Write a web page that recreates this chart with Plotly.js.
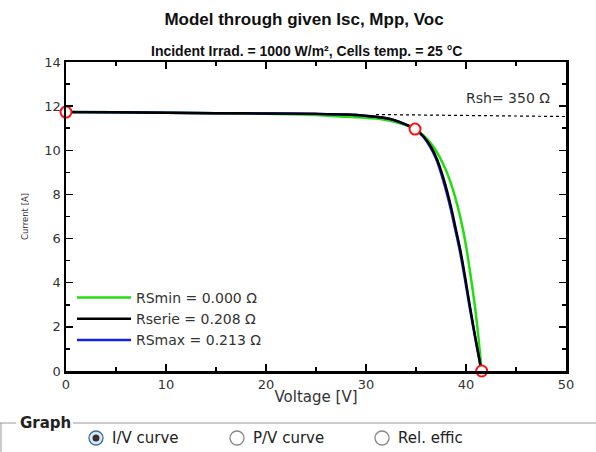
<!DOCTYPE html>
<html><head><meta charset="utf-8">
<script src="https://cdn.plot.ly/plotly-3.0.1.min.js"></script>
<style>html,body{margin:0;padding:0;background:#fff;}#chart{width:596px;height:452px;}</style>
</head><body><div id="chart"></div>
<script>
// --- Data ---
const greenV = [0, 5, 10, 15, 20, 25, 27, 29.5, 31.7, 33.4, 34.9, 35.8, 36.6, 37.3, 38.0, 38.6, 39.2, 39.7, 40.1, 40.5, 40.9, 41.25, 41.57];
const greenI = [11.73, 11.72, 11.70, 11.68, 11.66, 11.6, 11.54, 11.48, 11.4, 11.22, 10.96, 10.65, 10.25, 9.75, 9.1, 8.35, 7.4, 6.4, 5.4, 4.2, 2.91, 1.5, 0];
const blackV = [0, 5, 10, 15, 20, 25, 28, 30, 32.4, 34.07, 34.9, 35.8, 36.5, 37.1, 37.67, 38.2, 38.6, 39.0, 39.45, 39.9, 40.4, 41.0, 41.55];
const blackI = [11.73, 11.72, 11.70, 11.68, 11.67, 11.65, 11.62, 11.56, 11.42, 11.15, 10.96, 10.6, 10.15, 9.6, 8.85, 8.0, 7.25, 6.4, 5.45, 4.3, 2.91, 1.35, 0];
const blueV = [0, 5, 10, 15, 20, 25, 28, 30, 32.4, 34.07, 34.9, 35.75, 36.42, 37.02, 37.58, 38.11, 38.52, 38.93, 39.38, 39.84, 40.36, 40.98, 41.55];
const blueI = [11.73, 11.72, 11.70, 11.68, 11.67, 11.65, 11.62, 11.56, 11.42, 11.15, 10.96, 10.6, 10.15, 9.6, 8.85, 8.0, 7.25, 6.4, 5.45, 4.3, 2.91, 1.35, 0];
const rshV = [31, 50];
const rshI = [11.62, 11.53];
const keyV = [0, 34.9, 41.57];   // Isc, Mpp, Voc
const keyI = [11.73, 10.96, 0];
const seriesNames = ['RSmin = 0.000 Ω', 'Rserie = 0.208 Ω', 'RSmax = 0.213 Ω'];
const xTicks = [0, 10, 20, 30, 40, 50];
const yTicks = [0, 2, 4, 6, 8, 10, 12, 14];

// pixel -> paper helpers (plot area 66..566 x, 62..371 y)
const PX = p => (p - 66) / 500;
const PY = p => (371 - p) / 309;
const FF = 'DejaVu Sans, Verdana, sans-serif';
const FA = 'Liberation Sans, Arial, sans-serif';

const traces = [
  {x: rshV, y: rshI, mode: 'lines', line: {color: '#000', width: 1.2, dash: 'dot'}, showlegend: false, hoverinfo: 'skip'},
  {x: greenV, y: greenI, mode: 'lines', name: seriesNames[0], line: {color: '#22dd11', width: 2.5, shape: 'spline', smoothing: 0.8}, legendrank: 1},
  {x: blueV, y: blueI, mode: 'lines', name: seriesNames[2], line: {color: '#1122ee', width: 2.5, shape: 'spline', smoothing: 0.8}, legendrank: 3},
  {x: blackV, y: blackI, mode: 'lines', name: seriesNames[1], line: {color: '#000', width: 2.4, shape: 'spline', smoothing: 0.8}, legendrank: 2},
  {x: keyV, y: keyI, mode: 'markers', showlegend: false, cliponaxis: false,
   marker: {symbol: 'circle', size: 11, color: '#fff', line: {color: '#ff1010', width: 2}}}
];

const axFont = {family: FF, size: 13, color: '#333'};
const shapes = [
  // group box
  {type: 'line', xref: 'paper', yref: 'paper', x0: PX(73), x1: PX(600), y0: PY(423), y1: PY(423), line: {color: '#999', width: 1}},
  {type: 'line', xref: 'paper', yref: 'paper', x0: PX(0), x1: PX(16), y0: PY(423), y1: PY(423), line: {color: '#999', width: 1}},
  {type: 'line', xref: 'paper', yref: 'paper', x0: PX(1), x1: PX(1), y0: PY(423), y1: PY(460), line: {color: '#999', width: 1}},
];
const radios = [[96, true, 'I/V curve'], [237, false, 'P/V curve'], [382, false, 'Rel. effic']];
const annotations = [
  {xref: 'paper', yref: 'paper', x: PX(306), y: PY(51), text: '<b>Incident Irrad. = 1000 W/m², Cells temp. = 25 °C</b>', showarrow: false, xanchor: 'center', yanchor: 'middle', font: {family: FA, size: 14, color: '#111'}},
  {xref: 'x', yref: 'y', x: 48.6, y: 12.35, text: 'Rsh= 350 Ω', showarrow: false, xanchor: 'right', font: {family: FF, size: 14, color: '#333'}},
  {xref: 'paper', yref: 'paper', x: PX(18), y: PY(423), text: '<b>Graph</b>', showarrow: false, xanchor: 'left', yanchor: 'middle', font: {family: FF, size: 15, color: '#222'}},
  {xref: 'paper', yref: 'paper', x: PX(18), y: PY(217), text: 'Current [A]', textangle: -90, showarrow: false, font: {family: FF, size: 8.5, color: '#333'}},
];
radios.forEach(([cx, on, label]) => {
  shapes.push({type: 'circle', xref: 'paper', yref: 'paper', x0: PX(cx - 7), x1: PX(cx + 7), y0: PY(445), y1: PY(431),
    fillcolor: on ? '#dde8f4' : '#fff', line: {color: on ? '#3a6ea5' : '#888', width: 1.3}});
  if (on) shapes.push({type: 'circle', xref: 'paper', yref: 'paper', x0: PX(cx - 3.5), x1: PX(cx + 3.5), y0: PY(441.5), y1: PY(434.5),
    fillcolor: '#333', line: {width: 0}});
  annotations.push({xref: 'paper', yref: 'paper', x: PX(cx + 14), y: PY(438), text: label, showarrow: false, xanchor: 'left', yanchor: 'middle',
    font: {family: FF, size: 15, color: '#222'}});
});

const layout = {
  width: 596, height: 452,
  margin: {l: 66, r: 30, t: 62, b: 81},
  paper_bgcolor: '#fff', plot_bgcolor: '#fff',
  title: {text: '<b>Model through given Isc, Mpp, Voc</b>', yref: 'container', y: 1 - 19 / 452, yanchor: 'middle',
          font: {family: FA, size: 17, color: '#111'}, x: 304 / 596, xanchor: 'center'},
  showlegend: true,
  legend: {x: PX(72), y: PY(282), xanchor: 'left', yanchor: 'top', bgcolor: 'rgba(0,0,0,0)', tracegroupgap: 0,
           font: {family: FF, size: 14, color: '#333'}, itemwidth: 54},
  xaxis: {range: [0, 50], tickvals: xTicks, ticks: 'inside', ticklen: 7, tickwidth: 1.5, tickcolor: '#000',
          showline: true, linecolor: '#000', linewidth: 2.5, mirror: 'allticks', showgrid: false, zeroline: false,
          minor: {dtick: 5, ticks: 'inside', ticklen: 4, tickcolor: '#000'},
          tickfont: axFont, title: {text: 'Voltage [V]', standoff: 1, font: {family: FF, size: 15, color: '#333'}}},
  yaxis: {range: [0, 14], tickvals: yTicks, ticks: 'inside', ticklen: 7, tickwidth: 1.5, tickcolor: '#000',
          showline: true, linecolor: '#000', linewidth: 2.5, mirror: 'allticks', showgrid: false, zeroline: false,
          minor: {dtick: 1, ticks: 'inside', ticklen: 4, tickcolor: '#000'},
          tickfont: axFont},
  shapes: shapes, annotations: annotations
};
Plotly.newPlot('chart', traces, layout, {displayModeBar: false, staticPlot: true});
</script></body></html>
